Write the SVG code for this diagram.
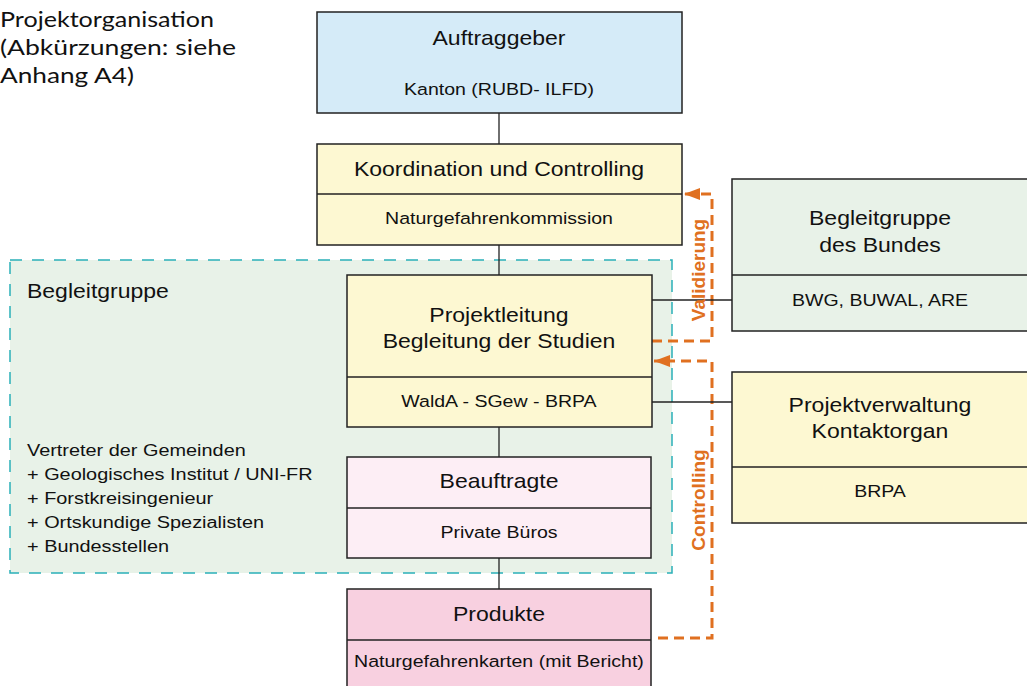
<svg xmlns="http://www.w3.org/2000/svg" width="1027" height="686" viewBox="0 0 1027 686">
<style>
text{font-family:"Liberation Sans",Arial,sans-serif;fill:#111}
.box{stroke:#222;stroke-width:1.5}
.div{stroke:#222;stroke-width:1.5}
.conn{stroke:#222;stroke-width:1.3;fill:none}
.flow{stroke:#e07020;stroke-width:3;fill:none;stroke-dasharray:10 6}
.h{font-size:20px;text-anchor:middle}
.s{font-size:17px;text-anchor:middle}
.l{font-size:17.3px}
.lbl{font-size:19px;font-weight:bold;fill:#e07020;text-anchor:middle}
.title{font-family:Lato,"Liberation Sans",sans-serif;font-size:21px}
</style>
<defs>
<marker id="ah" markerUnits="userSpaceOnUse" markerWidth="18" markerHeight="12" refX="16" refY="6" orient="auto">
<path d="M0,0 L16,6 L0,12 Z" fill="#e07020"/>
</marker>
</defs>
<rect width="1027" height="686" fill="#fff"/>
<g id="title">
<text class="title" x="0" y="27" textLength="214" lengthAdjust="spacingAndGlyphs">Projektorganisation</text>
<text class="title" x="0" y="55" textLength="236" lengthAdjust="spacingAndGlyphs">(Abkürzungen: siehe</text>
<text class="title" x="0" y="83" textLength="134" lengthAdjust="spacingAndGlyphs">Anhang A4)</text>
</g>
<g id="begleitgruppe">
<rect x="10" y="260" width="662" height="313" fill="#e8f2e8" stroke="#2ab0b8" stroke-width="1.5" stroke-dasharray="12 10"/>
<g transform="scale(1.15 1)">
<text x="23.48" y="298" font-size="20px">Begleitgruppe</text>
<text class="l" x="23.48" y="456">Vertreter der Gemeinden</text>
<text class="l" x="23.48" y="480">+ Geologisches Institut / UNI-FR</text>
<text class="l" x="23.48" y="504">+ Forstkreisingenieur</text>
<text class="l" x="23.48" y="528">+ Ortskundige Spezialisten</text>
<text class="l" x="23.48" y="552">+ Bundesstellen</text>
</g>
</g>
<g id="connectors">
<line class="conn" x1="499" y1="113" x2="499" y2="144"/>
<line class="conn" x1="499" y1="245" x2="499" y2="275"/>
<line class="conn" x1="499" y1="427" x2="499" y2="457"/>
<line class="conn" x1="499" y1="558" x2="499" y2="589"/>
<path class="flow" d="M652,341 L712,341 L712,194 L684,194" marker-end="url(#ah)"/>
<path class="flow" d="M658,638 L712,638 L712,361 L654,361" marker-end="url(#ah)"/>
<line class="conn" x1="652" y1="300" x2="732" y2="300"/>
<line class="conn" x1="652" y1="402" x2="732" y2="402"/>
<text class="lbl" transform="translate(705,270) rotate(-90)">Validierung</text>
<text class="lbl" transform="translate(705,500) rotate(-90)">Controlling</text>
</g>
<g id="auftraggeber">
<rect class="box" x="317" y="12" width="365" height="101" fill="#d5ebf8"/>
<g transform="scale(1.15 1)">
<text class="h" x="433.91" y="45">Auftraggeber</text>
<text class="s" x="433.91" y="95">Kanton (RUBD- ILFD)</text>
</g>
</g>
<g id="koordination">
<rect class="box" x="317" y="144" width="365" height="101" fill="#fdf8d2"/>
<line class="div" x1="317" y1="194" x2="682" y2="194"/>
<g transform="scale(1.15 1)">
<text class="h" x="433.91" y="176">Koordination und Controlling</text>
<text class="s" x="433.91" y="224">Naturgefahrenkommission</text>
</g>
</g>
<g id="projektleitung">
<rect class="box" x="347" y="275" width="305" height="152" fill="#fdf8d2"/>
<line class="div" x1="347" y1="377" x2="652" y2="377"/>
<g transform="scale(1.15 1)">
<text class="h" x="433.91" y="322">Projektleitung</text>
<text class="h" x="433.91" y="348">Begleitung der Studien</text>
<text class="s" x="433.91" y="407">WaldA - SGew - BRPA</text>
</g>
</g>
<g id="bund">
<rect class="box" x="732" y="179" width="296" height="152" fill="#e8f2e8"/>
<line class="div" x1="732" y1="275" x2="1027" y2="275"/>
<g transform="scale(1.15 1)">
<text class="h" x="765.22" y="225">Begleitgruppe</text>
<text class="h" x="765.22" y="252">des Bundes</text>
<text class="s" x="765.22" y="306">BWG, BUWAL, ARE</text>
</g>
</g>
<g id="projektverwaltung">
<rect class="box" x="732" y="372" width="296" height="151" fill="#fdf8d2"/>
<line class="div" x1="732" y1="467" x2="1027" y2="467"/>
<g transform="scale(1.15 1)">
<text class="h" x="765.22" y="412">Projektverwaltung</text>
<text class="h" x="765.22" y="438">Kontaktorgan</text>
<text class="s" x="765.22" y="497">BRPA</text>
</g>
</g>
<g id="beauftragte">
<rect class="box" x="347" y="457" width="304" height="101" fill="#fdeef5"/>
<line class="div" x1="347" y1="508" x2="651" y2="508"/>
<g transform="scale(1.15 1)">
<text class="h" x="433.91" y="488">Beauftragte</text>
<text class="s" x="433.91" y="538">Private Büros</text>
</g>
</g>
<g id="produkte">
<rect class="box" x="347" y="589" width="304" height="110" fill="#f8d0e0"/>
<line class="div" x1="347" y1="640" x2="651" y2="640"/>
<g transform="scale(1.15 1)">
<text class="h" x="433.91" y="621">Produkte</text>
<text class="s" x="433.91" y="667">Naturgefahrenkarten (mit Bericht)</text>
</g>
</g>
</svg>
